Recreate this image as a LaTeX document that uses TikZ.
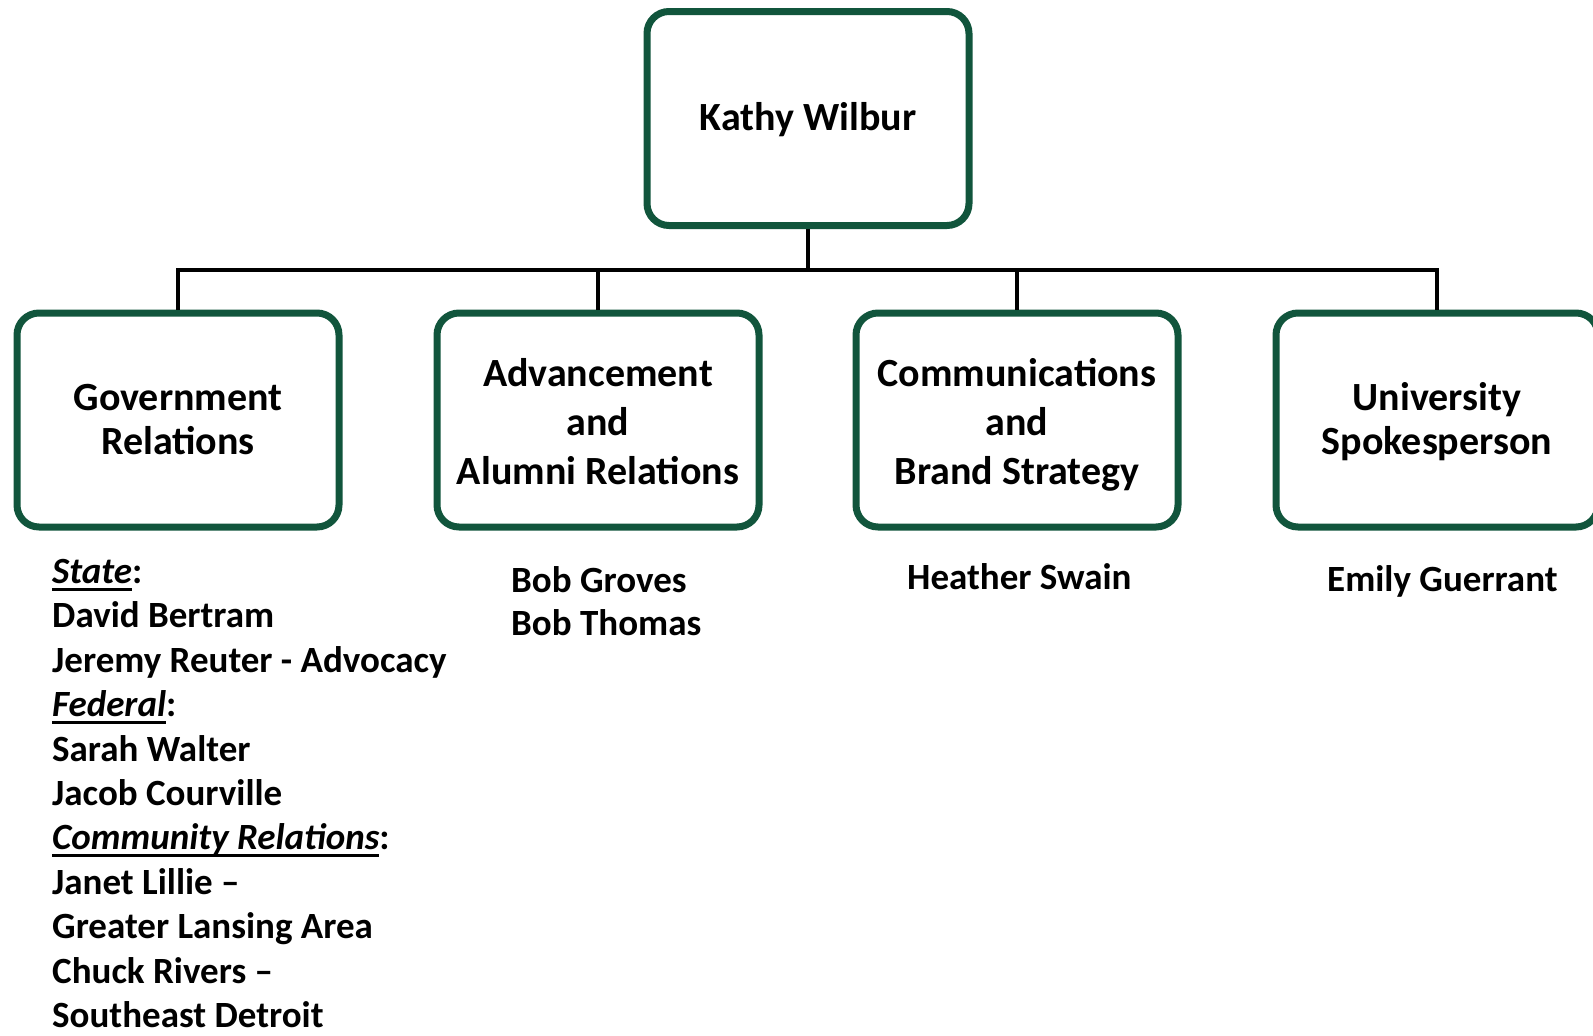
\documentclass[tikz,border=0pt]{standalone}
\usepackage{fontspec}
\setmainfont{Carlito}
\definecolor{boxgreen}{RGB}{17,85,60}
\newcommand\myul[1]{\setbox0=\hbox{#1}\rlap{\rule[-7pt]{\wd0}{2.5pt}}\box0}
\newcommand\tp[1]{\rule{0pt}{#1pt}}
\newcommand\bm[1]{\rule[-#1pt]{0pt}{#1pt}}
\begin{document}
\begin{tikzpicture}[x=1pt,y=-1pt,
  box/.style={draw=boxgreen, line width=7pt, rounded corners=22pt, minimum width=322pt, minimum height=214pt, align=center, inner sep=0pt, font=\fontsize{40}{44}\selectfont\bfseries},
  box3/.style={box, font=\fontsize{40}{49}\selectfont\bfseries},
  conn/.style={draw=black, line width=4pt},
  lab/.style={font=\fontsize{37}{40}\selectfont\bfseries, inner sep=0pt, anchor=base west}]
\clip (0,0) rectangle (1593,1036);
\fill[white] (0,0) rectangle (1593,1036);
\node[box] (top) at (808,118.5) {\tp{33}Kathy Wilbur\bm{10}};
\node[box] (g) at (178,420) {\tp{34}Government\\Relations\bm{10}};
\node[box3] (a) at (598,420) {\tp{40}Advancement\\and\\Alumni Relations\bm{10}};
\node[box3] (c) at (1017,420) {\tp{40}Communications\\and\\Brand Strategy\bm{10}};
\node[box] (u) at (1437,420) {\tp{34}University\\Spokesperson\bm{10}};
\coordinate (bus) at (808,270);
\draw[conn] (top.south) -- (bus);
\draw[conn] (g.north) |- (bus) -| (u.north);
\draw[conn] (a.north) -- (a.north |- bus);
\draw[conn] (c.north) -- (c.north |- bus);
\foreach \t [count=\i] in {{\myul{\itshape State}:},{David Bertram},{Jeremy Reuter - Advocacy},{\myul{\itshape Federal}:},{Sarah Walter},{Jacob Courville},{\myul{\itshape Community Relations}:},{Janet Lillie –},{Greater Lansing Area},{Chuck Rivers –},{Southeast Detroit}}
  {\node[lab, name=l\i] at (52,{583.5+44.4*(\i-1)}) {\t};}
\node[lab] (bg) at (511,592) {Bob Groves};
\node[lab] (bt) at (511,635) {Bob Thomas};
\node[lab] (hs) at (907,589) {Heather Swain};
\node[lab] (eg) at (1327,591) {Emily Guerrant};
\end{tikzpicture}
\end{document}
